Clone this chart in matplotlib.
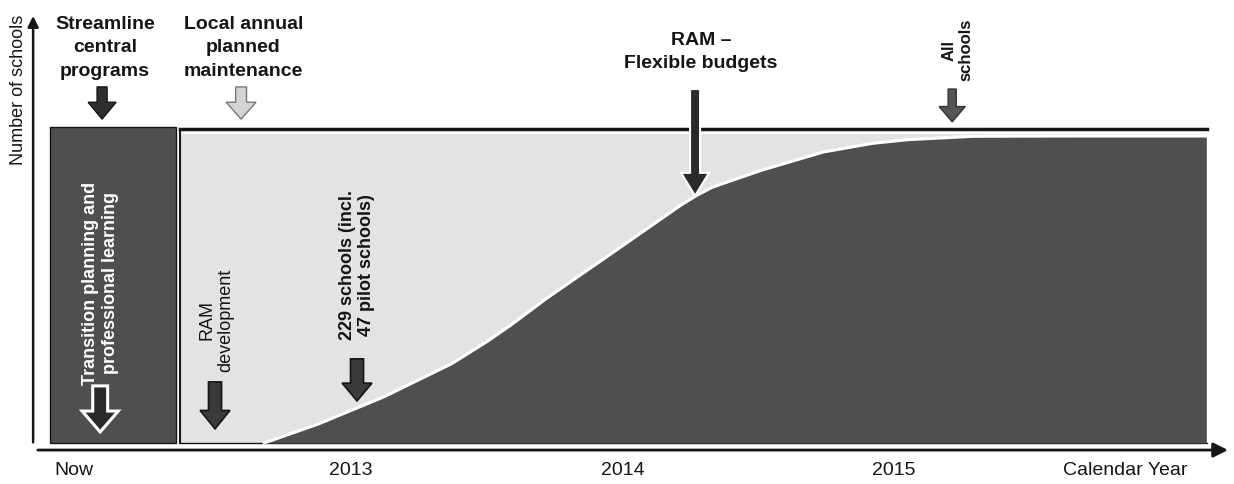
import matplotlib.pyplot as plt
from matplotlib.patches import Rectangle, FancyArrow

plt.rcParams['font.family'] = ['Liberation Sans', 'DejaVu Sans']

# ── Data ─────────────────────────────────────────────────────────────────────
# Share of schools on the new model (1.0 = all schools), by calendar year
rollout_year = [2012.68, 2012.88, 2013.12, 2013.37, 2013.50, 2013.59, 2013.72,
                2013.97, 2014.21, 2014.27, 2014.33, 2014.51, 2014.74, 2014.92,
                2015.05, 2015.29, 2015.66, 2016.15]
rollout_share = [0.0, 0.062, 0.150, 0.258, 0.330, 0.385, 0.471,
                 0.624, 0.772, 0.805, 0.833, 0.888, 0.948, 0.976,
                 0.988, 0.999, 1.0, 1.0]

# Phase boundaries (calendar year)
transition_start, transition_end = 2011.89, 2012.355
local_start, horizon_end = 2012.37, 2016.153

tick_years = [2011.98, 2013, 2014, 2015]
tick_labels = ['Now', '2013', '2014', '2015']

DARK = '#4f4f4f'
LIGHT = '#e3e3e3'
INK = '#151515'

fig = plt.figure(figsize=(12.34, 4.85), dpi=100)
ax = fig.add_axes([0, 0, 1, 1])
ax.set_xlim(2011.707, 2016.252)
ax.set_ylim(-0.1336, 1.4463)
ax.axis('off')

box_top = 1.03

# ── Phase blocks ──
ax.add_patch(Rectangle((transition_start, 0), transition_end - transition_start, box_top,
                       facecolor=DARK, edgecolor=INK, lw=1, zorder=1))
ax.add_patch(Rectangle((local_start, 0), horizon_end - local_start, 1.006,
                       facecolor=LIGHT, edgecolor='none', zorder=1))
ax.plot([local_start, local_start], [0, 1.022], color=INK, lw=1.5, zorder=2)
ax.plot([local_start, horizon_end], [1.022, 1.022], color=INK, lw=2.5, zorder=2)
ax.plot([local_start, horizon_end], [0, 0], color=INK, lw=1, zorder=2)

# ── Rollout S-curve ──
ax.fill_between(rollout_year, 0, rollout_share, color=DARK, lw=0, zorder=3)
ax.plot(rollout_year, rollout_share, color='white', lw=2.2, zorder=4)

# ── Axes arrows ──
ax.annotate('', xy=(2016.24, -0.023), xytext=(2011.836, -0.023),
            arrowprops=dict(arrowstyle='-|>', lw=2, color=INK, mutation_scale=22))
ax.annotate('', xy=(2011.829, 1.40), xytext=(2011.829, -0.007),
            arrowprops=dict(arrowstyle='-|>', lw=1.8, color=INK, mutation_scale=16))

for yr, lab in zip(tick_years, tick_labels):
    ax.text(yr, -0.085, lab, ha='center', va='center', fontsize=14, color=INK)
ax.text(2015.85, -0.085, 'Calendar Year', ha='center', va='center', fontsize=14, color=INK)
ax.text(2011.774, 1.153, 'Number of schools', rotation=90, ha='center', va='center',
        fontsize=13, color=INK)


# ── Milestone arrows ──
def block_arrow(x, y_tail, y_tip, shaft, head, head_len, fc, ec, lw=1.0, z=6):
    ax.add_patch(FancyArrow(x, y_tail, 0, y_tip - y_tail, width=shaft, head_width=head,
                            head_length=head_len, length_includes_head=True,
                            facecolor=fc, edgecolor=ec, lw=lw, zorder=z))


block_arrow(2012.083, 1.160, 1.055, 0.037, 0.103, 0.055, '#2e2e2e', INK)
block_arrow(2012.595, 1.160, 1.055, 0.040, 0.110, 0.055, '#d4d4d4', '#777777')
block_arrow(2014.267, 1.153, 0.805, 0.037, 0.103, 0.075, '#2a2a2a', 'white', lw=1.5, z=7)
block_arrow(2015.214, 1.153, 1.046, 0.030, 0.096, 0.050, '#555555', '#333333')
block_arrow(2012.076, 0.186, 0.036, 0.055, 0.133, 0.068, '#2a2a2a', 'white', lw=2.2)
block_arrow(2012.499, 0.199, 0.046, 0.048, 0.11, 0.060, '#3a3a3a', INK, lw=1.2)
block_arrow(2013.022, 0.274, 0.137, 0.048, 0.11, 0.058, '#3a3a3a', INK, lw=1.2)

# ── Labels ──
ax.text(2012.093, 1.29, 'Streamline\ncentral\nprograms', ha='center', va='center',
        fontsize=14, fontweight='bold', linespacing=1.52, color=INK)
ax.text(2012.604, 1.29, 'Local annual\nplanned\nmaintenance', ha='center', va='center',
        fontsize=14, fontweight='bold', linespacing=1.52, color=INK)
ax.text(2014.289, 1.277, 'RAM –\nFlexible budgets', ha='center', va='center',
        fontsize=14, fontweight='bold', linespacing=1.5, color=INK)
ax.text(2015.233, 1.283, 'All\nschools', rotation=90, ha='center', va='center',
        fontsize=12, fontweight='bold', linespacing=1.2, color=INK)
ax.text(2012.078, 0.524, 'Transition planning and\nprofessional learning', rotation=90,
        ha='center', va='center', fontsize=13, fontweight='bold', linespacing=1.2,
        color='white', zorder=8)
ax.text(2012.504, 0.404, 'RAM\ndevelopment', rotation=90, ha='center', va='center',
        fontsize=13, linespacing=1.2, color=INK, zorder=8)
ax.text(2013.022, 0.583, '229 schools (incl.\n47 pilot schools)', rotation=90,
        ha='center', va='center', fontsize=13, fontweight='bold', linespacing=1.2,
        color=INK, zorder=8)

fig.savefig('out.png', dpi=100)
